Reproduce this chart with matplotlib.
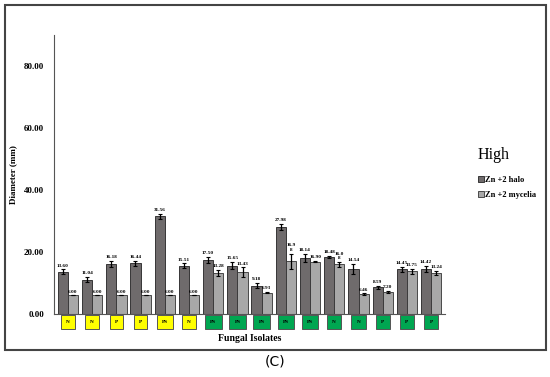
import numpy as np
import matplotlib.pyplot as plt
from matplotlib.patches import Rectangle

# values
isolate_types = ["N", "N", "P", "P", "PS", "N", "PS", "PS", "PS", "PS", "PS", "N", "N", "P", "P", "P"]
box_colors = ["#ffff00"] * 6 + ["#00a651"] * 10
halo = [13.60, 11.04, 16.18, 16.44, 31.56, 15.51, 17.50, 15.65, 9.18, 27.98, 18.14, 18.48, 14.54, 8.59, 14.45, 14.42]
halo_err = [0.8, 0.8, 1.0, 0.8, 0.8, 0.8, 1.0, 1.2, 0.8, 1.0, 1.2, 0.4, 1.5, 0.6, 0.8, 1.0]
mycelia = [6.00, 6.00, 6.00, 6.00, 6.00, 6.00, 13.28, 13.43, 6.93, 16.98, 16.90, 16.08, 6.46, 7.20, 13.75, 13.24]
mycelia_err = [0, 0, 0, 0, 0, 0, 1.0, 1.6, 0.3, 2.5, 0.2, 0.8, 0.2, 0.3, 0.9, 0.8]
mycelia_labels = ["6.00", "6.00", "6.00", "6.00", "6.00", "6.00", "13.28", "13.43", "6.93", "16.9\n8",
                  "16.90", "16.0\n8", "6.46", "7.20", "13.75", "13.24"]

plt.rcParams['font.family'] = ['Liberation Serif', 'DejaVu Serif']

fig = plt.figure(figsize=(5.5, 3.77), dpi=100)
ax = fig.add_axes([0.098, 0.167, 0.711, 0.740])

x = np.arange(len(halo))
w = 0.42
ax.bar(x - w / 2, halo, w, color="#6f6b6c", edgecolor="#222222", linewidth=0.6,
       yerr=halo_err, capsize=1.5, error_kw=dict(elinewidth=0.9, capthick=0.8, ecolor="black"),
       label="Zn +2 halo")
ax.bar(x + w / 2, mycelia, w, color="#a8a8a8", edgecolor="#333333", linewidth=0.6,
       yerr=mycelia_err, capsize=1.5, error_kw=dict(elinewidth=0.9, capthick=0.8, ecolor="black"),
       label="Zn +2 mycelia")

for i in range(len(halo)):
    ax.text(x[i] - w / 2, halo[i] + halo_err[i] + 0.6, f"{halo[i]:.2f}", ha="center", va="bottom",
            fontsize=3.8, fontweight="bold")
    ax.text(x[i] + w / 2, mycelia[i] + mycelia_err[i] + 0.6, mycelia_labels[i], ha="center", va="bottom",
            fontsize=3.8, fontweight="bold", linespacing=1.1)

# coloured boxes under each group
for i, (t, c) in enumerate(zip(isolate_types, box_colors)):
    ax.text(x[i], -0.022, t, transform=ax.get_xaxis_transform(), ha="center", va="top",
            fontsize=3.8, fontweight="bold",
            bbox=dict(boxstyle="square,pad=1.0", facecolor=c, edgecolor="#555555", linewidth=0.7))

ax.set_xlim(-0.58, 15.57)
ax.set_ylim(0, 90)
ax.set_yticks([0, 20, 40, 60, 80])
ax.set_yticklabels(["0.00", "20.00", "40.00", "60.00", "80.00"], fontsize=6.5, fontweight="bold")
ax.set_xticks([])
ax.tick_params(axis="y", length=0, pad=7)
for s in ["top", "right"]:
    ax.spines[s].set_visible(False)
ax.spines["left"].set_color("#555555")
ax.spines["bottom"].set_color("#555555")

ax.set_ylabel("Diameter (mm)", fontsize=6.5, fontweight="bold")
ax.yaxis.set_label_coords(-0.095, 0.5)
ax.text(0.5, -0.07, "Fungal Isolates", transform=ax.transAxes, ha="center", va="top",
        fontsize=7, fontweight="bold")

leg = ax.legend(loc="upper left", bbox_to_anchor=(1.065, 0.625), frameon=False,
                prop=dict(weight="bold", size=6), handlelength=0.7, handleheight=0.7,
                handletextpad=0.2, labelspacing=0.85, title="High", title_fontsize=11.5)
leg._legend_box.align = "left"
leg._legend_box.sep = 9

# outer frame and panel letter
fig.patches.append(Rectangle((0.009, 0.072), 0.983, 0.915, transform=fig.transFigure,
                             fill=False, edgecolor="#444444", linewidth=1.5))
fig.text(0.5, 0.04, "(C)", ha="center", va="center", fontsize=10, family="DejaVu Sans")

fig.savefig("out.png", dpi=100)
